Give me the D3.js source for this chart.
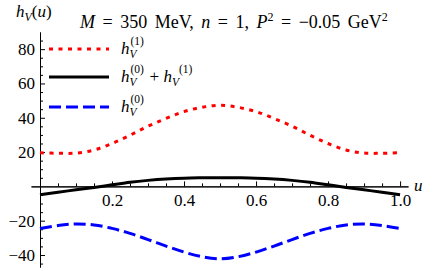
<!DOCTYPE html>
<html>
<head>
<meta charset="utf-8">
<script src="https://cdn.jsdelivr.net/npm/d3@7"></script>
<style>
  body { margin: 0; background: #fff; }
  svg text { font-family: "Liberation Serif", "Tinos", "Times New Roman", "Nimbus Roman", "FreeSerif", "DejaVu Serif", serif; fill: #000; }
</style>
</head>
<body>
<svg id="chart"></svg>
<script>
const chart = { width: 436, height: 271 }

// u grid and read-off curve values
const uVals = [0, 0.05, 0.1, 0.15, 0.2, 0.25, 0.3, 0.35, 0.4, 0.45, 0.5,
               0.55, 0.6, 0.65, 0.7, 0.75, 0.8, 0.85, 0.9, 0.95, 1.0]
const h1Vals = [19.6, 19.3, 19.4, 21.2, 25.0, 29.8, 35.1, 39.6, 43.6, 46.1, 47.3,
                46.1, 43.6, 39.6, 35.1, 29.8, 25.0, 21.2, 19.4, 19.3, 19.6]
const h0Vals = [-24.6, -22.8, -21.9, -22.5, -24.5, -27.4, -31.0, -34.8, -38.3, -41.0, -42.2,
                -41.0, -38.3, -34.8, -31.0, -27.4, -24.5, -22.5, -21.9, -22.8, -24.6]
const sumVals = [-4.9, -3.4, -2.0, -0.6, 0.9, 2.4, 3.5, 4.3, 4.8, 5.0, 5.1,
                 5.0, 4.8, 4.3, 3.5, 2.4, 0.9, -0.6, -2.0, -3.4, -4.9]

const xMajor = [0.2, 0.4, 0.6, 0.8, 1.0]
const xMinor = [0.05, 0.1, 0.15, 0.25, 0.3, 0.35, 0.45, 0.5, 0.55, 0.65, 0.7, 0.75, 0.85, 0.9, 0.95]
const yMajor = [-40, -20, 20, 40, 60, 80]
const yMinor = [-45, -35, -30, -25, -15, -10, -5, 5, 10, 15, 25, 30, 35, 45, 50, 55, 65, 70, 75, 85]

const legendItems = [
    { sup: ["(1)"], color: "#f00", dash: "4 5.5" },
    { sup: ["(0)", "(1)"], color: "#000", dash: null },
    { sup: ["(0)"], color: "#00f", dash: "12 5" }
]

const svg = d3.select("#chart")
    .attr("width", chart.width)
    .attr("height", chart.height)

const scaleX = d3.scaleLinear().domain([-0.025, 1.022]).range([31, 408])
const scaleY = d3.scaleLinear().domain([-47, 90]).range([267, 32])

// axes: ticks point inward
svg.append("g")
    .attr("transform", "translate(0," + scaleY(0) + ")")
    .call(d3.axisBottom(scaleX).tickValues(xMinor).tickSizeInner(-3).tickSizeOuter(0).tickFormat(""))
svg.append("g")
    .attr("transform", "translate(0," + scaleY(0) + ")")
    .call(d3.axisBottom(scaleX).tickValues(xMajor).tickSizeInner(-5).tickSizeOuter(0)
        .tickPadding(8).tickFormat(d3.format(".1f")))

svg.append("g")
    .attr("transform", "translate(" + scaleX(0) + ",0)")
    .call(d3.axisLeft(scaleY).tickValues(yMinor).tickSizeInner(-3).tickSizeOuter(0).tickFormat(""))
svg.append("g")
    .attr("transform", "translate(" + scaleX(0) + ",0)")
    .call(d3.axisLeft(scaleY).tickValues(yMajor).tickSizeInner(-5).tickSizeOuter(0).tickPadding(5))

svg.selectAll("g").attr("font-family", null).attr("font-size", null)
svg.selectAll(".domain, .tick line").attr("stroke", "#000").attr("stroke-width", 1)
svg.selectAll(".tick text").style("font-size", "17px")

// curves
const line = (vals) => d3.line()
    .x((d, i) => scaleX(uVals[i]))
    .y((d) => scaleY(d))
    .curve(d3.curveCatmullRom)(vals)

svg.append("path").attr("d", line(h1Vals))
    .attr("fill", "none").attr("stroke", "#f00").attr("stroke-width", 3)
    .attr("stroke-dasharray", "4 5.5")
svg.append("path").attr("d", line(h0Vals))
    .attr("fill", "none").attr("stroke", "#00f").attr("stroke-width", 3)
    .attr("stroke-dasharray", "12 5")
svg.append("path").attr("d", line(sumVals))
    .attr("fill", "none").attr("stroke", "#000").attr("stroke-width", 3)

// h_V^{sup} as one text element, sup stacked over sub
function hLabel(x, y, sups, size) {
    const t = svg.append("text").attr("x", x).attr("y", y).style("font-size", size + "px")
    const small = 11.5
    sups.forEach((sup, k) => {
        if (k > 0) t.append("tspan").text(" + ")
        const h = t.append("tspan").style("font-style", "italic").text("h")
        if (k > 0) h.attr("y", y)
        const hEnd = t.node().getComputedTextLength()
        t.append("tspan").attr("y", y + 4).style("font-style", "italic")
            .style("font-size", small + "px").text("V")
        if (sup) {
            t.append("tspan").attr("x", x + hEnd + 1).attr("y", y - 9)
                .style("font-size", small + "px").text(sup)
        }
        t.append("tspan").attr("y", y).text("\u200a")
    })
    return t
}

// legend
const legendY = [49, 77, 107]
legendItems.forEach((d, i) => {
    const y = legendY[i]
    svg.append("line")
        .attr("x1", 49).attr("x2", 109).attr("y1", y).attr("y2", y)
        .attr("stroke", d.color).attr("stroke-width", 3)
        .attr("stroke-dasharray", d.dash)
    hLabel(121, y + 5, d.sup, 17)
})

// y axis title h_V(u)
const yt = svg.append("text").attr("x", 16).attr("y", 17).style("font-size", "17px")
yt.append("tspan").style("font-style", "italic").text("h")
yt.append("tspan").attr("dy", 4).style("font-style", "italic").style("font-size", "12px").text("V")
yt.append("tspan").attr("dy", -4).text("(")
yt.append("tspan").style("font-style", "italic").text("u")
yt.append("tspan").text(")")

// x axis title
svg.append("text").attr("x", 414).attr("y", 191)
    .style("font-size", "17px").style("font-style", "italic").text("u")

// parameter line
const title = svg.append("text").attr("x", 80).attr("y", 28)
    .style("font-size", "18px").style("word-spacing", "3px")
title.append("tspan").style("font-style", "italic").text("M")
title.append("tspan").text(" = 350 MeV,  ")
title.append("tspan").style("font-style", "italic").text("n")
title.append("tspan").text(" = 1,  ")
title.append("tspan").style("font-style", "italic").text("P")
title.append("tspan").attr("dy", -7).style("font-size", "12px").text("2")
title.append("tspan").attr("dy", 7).text(" = \u22120.05 GeV")
title.append("tspan").attr("dy", -7).style("font-size", "12px").text("2")
</script>
</body>
</html>
